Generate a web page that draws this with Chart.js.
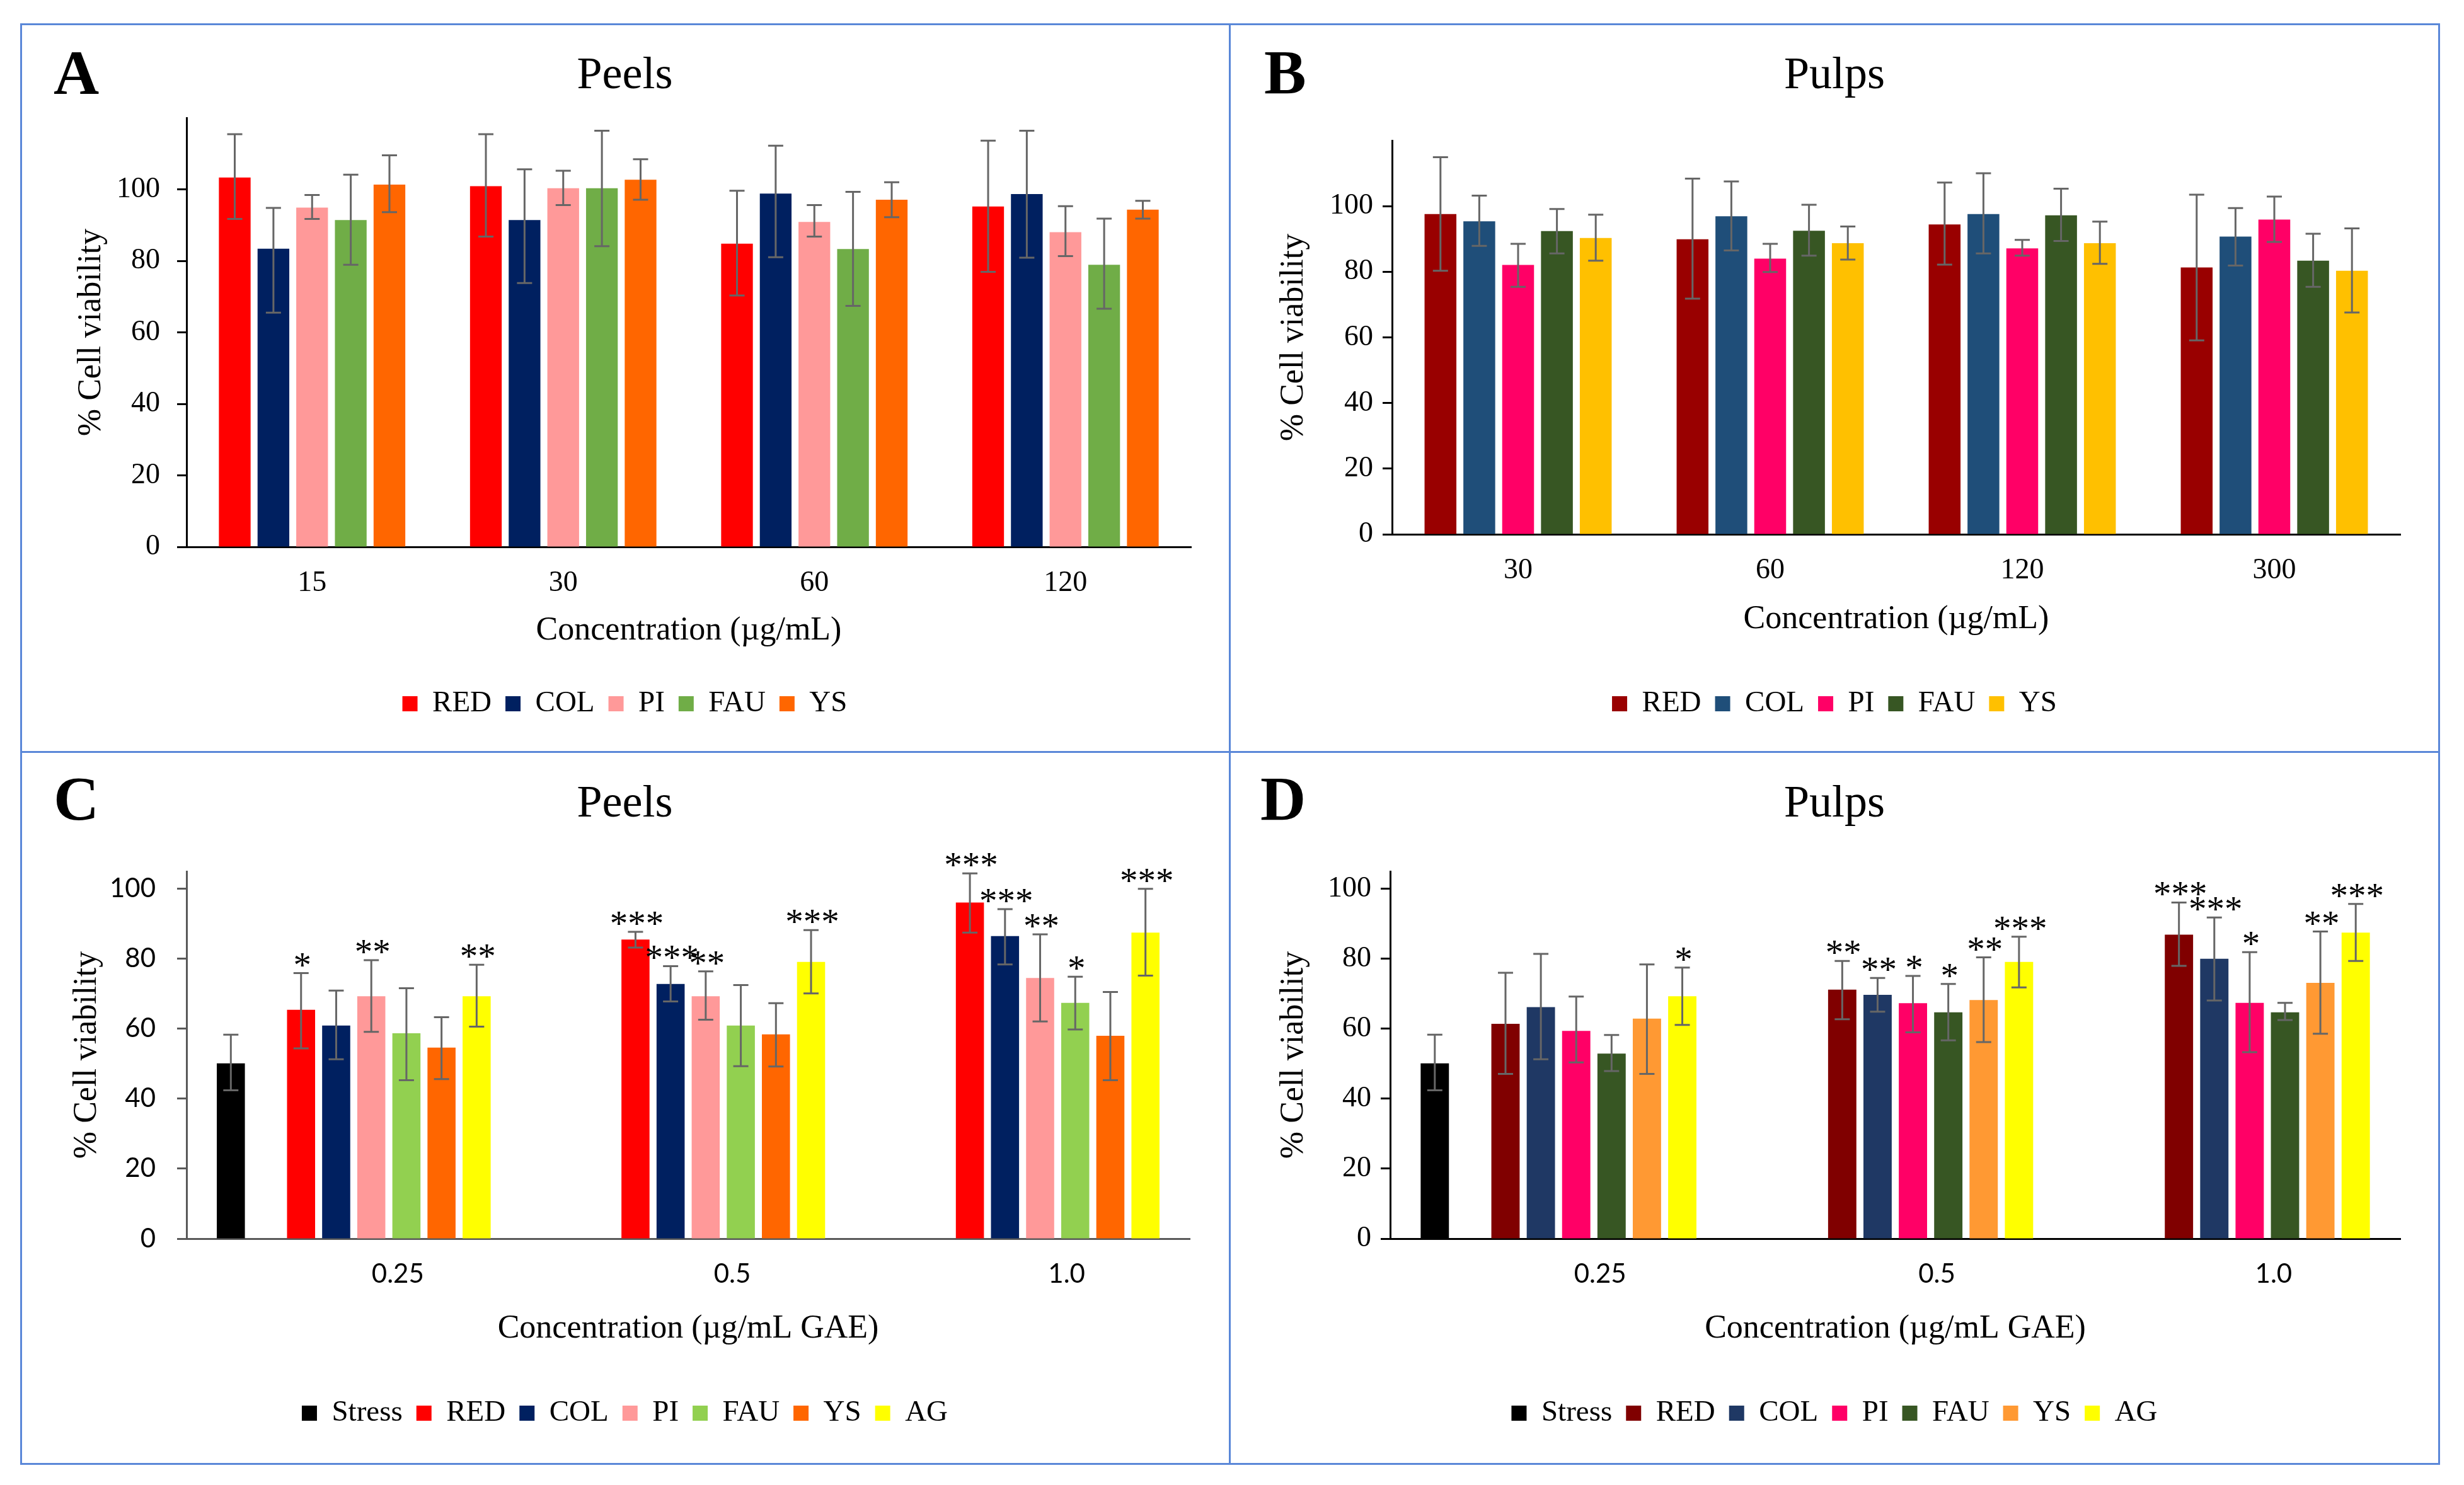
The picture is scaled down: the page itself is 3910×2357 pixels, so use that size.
<!DOCTYPE html>
<html>
<head>
<meta charset="utf-8">
<title>Cell viability – peels and pulps</title>
<script src="https://cdn.jsdelivr.net/npm/chart.js@4.4.1/dist/chart.umd.min.js"></script>
<style>
  html, body { margin: 0; padding: 0; background: #fff; }
  body { width: 3910px; height: 2357px; position: relative; overflow: hidden; }
  .frame { position: absolute; border: 3px solid #5a87d8; box-sizing: border-box; }
  .letter { position: absolute; font-family: 'Liberation Serif', 'Times New Roman', serif; font-weight: bold;
            font-size: 100px; line-height: 1; color: #000; }
  canvas { position: absolute; }
</style>
</head>
<body>
<div class="frame" style="left:32px;top:37px;width:1921px;height:1158px"></div>
<div class="frame" style="left:1950px;top:37px;width:1922px;height:1158px"></div>
<div class="frame" style="left:32px;top:1192px;width:1921px;height:1133px"></div>
<div class="frame" style="left:1950px;top:1192px;width:1922px;height:1133px"></div>

<div class="letter" style="left:85px;top:66px">A</div>
<div class="letter" style="left:2006px;top:65px">B</div>
<div class="letter" style="left:85px;top:1218px">C</div>
<div class="letter" style="left:2000px;top:1218px">D</div>

<canvas id="chartA" width="1913" height="1150" style="left:35px;top:41px"></canvas>
<canvas id="chartB" width="1916" height="1150" style="left:1953px;top:41px"></canvas>
<canvas id="chartC" width="1913" height="1122" style="left:35px;top:1196px"></canvas>
<canvas id="chartD" width="1916" height="1122" style="left:1953px;top:1196px"></canvas>

<script>
const SERIF = "'Liberation Serif', 'Times New Roman', serif";
const SANS = "Lato, Carlito, Calibri, sans-serif";

// labelled ticks on every value axis (axis itself runs a bit higher)
const Y_TICKS = [0, 20, 40, 60, 80, 100];

// ---- A: peels, plain extracts ----
const A_CATS = ['15', '30', '60', '120'];
const A_SERIES = ['RED', 'COL', 'PI', 'FAU', 'YS'];
const A_COLORS = ['#ff0000', '#002060', '#ff9999', '#70ad47', '#ff6600'];
const A_MEAN = [
  [103.3, 100.9, 84.8, 95.2],
  [83.4, 91.4, 98.8, 98.7],
  [94.9, 100.3, 90.9, 88.0],
  [91.4, 100.3, 83.3, 78.9],
  [101.3, 102.7, 97.1, 94.3]
];
const A_HIGH = [
  [115.4, 115.4, 99.6, 113.6],
  [94.8, 105.6, 112.2, 116.4],
  [98.4, 105.2, 95.6, 95.3],
  [104.1, 116.4, 99.3, 91.8],
  [109.5, 108.4, 102.0, 96.8]
];
const A_LOW = [
  [91.7, 86.8, 70.3, 76.9],
  [65.5, 73.8, 81.0, 80.9],
  [91.7, 95.6, 86.8, 81.3],
  [78.9, 84.1, 67.4, 66.6],
  [93.6, 97.1, 92.2, 91.8]
];

// ---- B: pulps, plain extracts ----
const B_CATS = ['30', '60', '120', '300'];
const B_SERIES = ['RED', 'COL', 'PI', 'FAU', 'YS'];
const B_COLORS = ['#990000', '#1f4e79', '#ff0066', '#375623', '#ffc000'];
const B_MEAN = [
  [97.6, 89.9, 94.4, 81.3],
  [95.4, 96.9, 97.6, 90.7],
  [82.1, 84.0, 87.1, 95.9],
  [92.4, 92.5, 97.2, 83.4],
  [90.3, 88.7, 88.7, 80.3]
];
const B_HIGH = [
  [114.9, 108.4, 107.2, 103.5],
  [103.2, 107.5, 110.0, 99.4],
  [88.5, 88.5, 89.7, 102.9],
  [99.1, 100.4, 105.3, 91.6],
  [97.4, 93.8, 95.3, 93.2]
];
const B_LOW = [
  [80.3, 71.8, 82.2, 59.1],
  [87.9, 86.5, 85.6, 81.9],
  [75.4, 79.9, 84.9, 89.1],
  [85.6, 84.9, 89.4, 75.4],
  [83.4, 83.7, 82.4, 67.6]
];

// ---- C: peels under stress ----
const C_CATS = ['0.25', '0.5', '1.0'];
const C_SERIES = ['Stress', 'RED', 'COL', 'PI', 'FAU', 'YS', 'AG'];
const C_COLORS = ['#000000', '#ff0000', '#002060', '#ff9999', '#92d050', '#ff6600', '#ffff00'];
const C_MEAN = [
  [50.1, null, null],
  [65.4, 85.5, 96.1],
  [60.9, 72.8, 86.5],
  [69.3, 69.3, 74.5],
  [58.7, 60.9, 67.4],
  [54.6, 58.4, 58.0],
  [69.3, 79.1, 87.5]
];
const C_HIGH = [
  [58.3, null, null],
  [75.9, 87.7, 104.4],
  [70.9, 77.9, 94.2],
  [79.6, 76.4, 87.0],
  [71.6, 72.5, 74.9],
  [63.3, 67.3, 70.5],
  [78.3, 88.2, 100.0]
];
const C_LOW = [
  [42.4, null, null],
  [54.4, 83.2, 87.5],
  [51.3, 67.8, 78.4],
  [59.1, 62.6, 62.1],
  [45.3, 49.3, 59.8],
  [45.6, 49.2, 45.3],
  [60.6, 70.1, 75.2]
];
const C_STARS = [
  ['', '', ''],
  ['*', '***', '***'],
  ['', '***', '***'],
  ['**', '**', '**'],
  ['', '', '*'],
  ['', '', ''],
  ['**', '***', '***']
];

// ---- D: pulps under stress ----
const D_CATS = ['0.25', '0.5', '1.0'];
const D_SERIES = ['Stress', 'RED', 'COL', 'PI', 'FAU', 'YS', 'AG'];
const D_COLORS = ['#000000', '#800000', '#1f3864', '#ff0066', '#375623', '#ff9933', '#ffff00'];
const D_MEAN = [
  [50.1, null, null],
  [61.4, 71.2, 86.9],
  [66.2, 69.7, 80.0],
  [59.4, 67.3, 67.4],
  [52.9, 64.7, 64.7],
  [62.9, 68.2, 73.1],
  [69.3, 79.1, 87.5]
];
const D_HIGH = [
  [58.3, null, null],
  [76.0, 79.4, 96.1],
  [81.4, 74.5, 91.8],
  [69.2, 75.1, 81.9],
  [58.2, 72.8, 67.4],
  [78.4, 80.4, 87.8],
  [77.5, 86.3, 95.7]
];
const D_LOW = [
  [42.4, null, null],
  [47.1, 62.7, 78.0],
  [51.3, 64.9, 68.1],
  [50.4, 59.0, 53.3],
  [47.9, 56.7, 62.5],
  [47.1, 56.2, 58.6],
  [61.1, 71.8, 79.4]
];
const D_STARS = [
  ['', '', ''],
  ['', '**', '***'],
  ['', '**', '***'],
  ['', '*', '*'],
  ['', '*', ''],
  ['', '**', '**'],
  ['*', '***', '***']
];

// error bars + significance stars, drawn from each dataset's errHigh/errLow/stars
const errorBars = {
  id: 'errorBars',
  afterDatasetsDraw(chart, args, opts) {
    const ctx = chart.ctx;
    const y = chart.scales.y;
    ctx.save();
    chart.data.datasets.forEach((ds, i) => {
      if (!ds.errHigh) return;
      chart.getDatasetMeta(i).data.forEach((bar, j) => {
        const hi = ds.errHigh[j], lo = ds.errLow[j];
        if (hi == null) return;
        const x = bar.x, yh = y.getPixelForValue(hi), yl = y.getPixelForValue(lo);
        ctx.strokeStyle = opts.color;
        ctx.lineWidth = opts.width;
        ctx.beginPath();
        ctx.moveTo(x, yh); ctx.lineTo(x, yl);
        ctx.moveTo(x - opts.cap, yh); ctx.lineTo(x + opts.cap, yh);
        ctx.moveTo(x - opts.cap, yl); ctx.lineTo(x + opts.cap, yl);
        ctx.stroke();
        const s = ds.stars ? ds.stars[j] : '';
        if (s) {
          ctx.fillStyle = '#000';
          ctx.font = opts.starFont;
          ctx.textAlign = 'center';
          ctx.textBaseline = 'alphabetic';
          ctx.fillText(s, x + 2, yh + opts.starShift);
        }
      });
    });
    ctx.restore();
  }
};

function buildChart(id, p) {
  const datasets = p.series.map((name, i) => ({
    label: name,
    data: p.mean[i],
    backgroundColor: p.colors[i],
    borderWidth: 0,
    errHigh: p.high[i],
    errLow: p.low[i],
    stars: p.stars ? p.stars[i] : null
  }));
  // empty slot between the stress bar and the extracts
  if (p.gapAfterFirst) datasets.splice(1, 0, { label: '', data: p.cats.map(() => null) });

  new Chart(document.getElementById(id), {
    type: 'bar',
    data: { labels: p.cats, datasets },
    options: {
      responsive: false,
      animation: false,
      devicePixelRatio: 1,
      layout: { padding: { left: p.side, right: p.side, top: 0, bottom: p.padBottom } },
      datasets: { bar: { barPercentage: p.barPct, categoryPercentage: p.catPct } },
      plugins: {
        title: {
          display: true, text: p.title, color: '#000',
          font: { family: SERIF, size: 72, weight: 'normal' },
          padding: { top: p.titleTop, bottom: p.titleBottom }
        },
        legend: {
          position: 'bottom',
          labels: {
            color: '#000', font: { family: SERIF, size: 47 },
            boxWidth: 24, boxHeight: 24, padding: 22,
            filter: item => item.text !== ''
          }
        },
        tooltip: { enabled: false },
        errorBars: { color: '#666666', width: 3, cap: 12, starFont: '57px ' + SERIF, starShift: 6 }
      },
      scales: {
        x: {
          grid: { display: false, drawTicks: false },
          border: { display: true, color: p.axisColor, width: 3 },
          ticks: { color: '#000', font: p.xTickFont, padding: p.xTickPad, labelOffset: p.labelOffset || 0,
                   maxRotation: 0, autoSkip: false },
          title: { display: true, text: p.xTitle, color: '#000', font: { family: SERIF, size: 52 },
                   padding: { top: 0, bottom: p.xTitleBottom } },
          afterFit: s => { s.height = p.xHeight; }
        },
        y: {
          min: 0, max: p.yMax,
          afterBuildTicks: s => { s.ticks = Y_TICKS.map(v => ({ value: v })); },
          ticks: { color: '#000', font: p.yTickFont, padding: p.yTickPad },
          grid: { drawOnChartArea: false, drawTicks: true, tickLength: 15, tickWidth: 3, tickColor: p.axisColor },
          border: { display: true, color: p.axisColor, width: 3 },
          title: { display: true, text: '% Cell viability', color: '#000', font: { family: SERIF, size: 52 },
                   padding: { top: p.yTitleTop, bottom: 0 } },
          afterFit: s => { s.width = p.yWidth; }
        }
      }
    },
    plugins: [errorBars]
  });
}

buildChart('chartA', {
  cats: A_CATS, series: A_SERIES, colors: A_COLORS, mean: A_MEAN, high: A_HIGH, low: A_LOW,
  title: 'Peels', xTitle: 'Concentration (\u00b5g/mL)', yMax: 120,
  barPct: 0.82, catPct: 0.77, side: 58, padBottom: 40.5,
  titleTop: 36.8, titleBottom: 22.8, xHeight: 203.5, xTitleBottom: 39.3, xTickPad: 30.4,
  yWidth: 203, yTitleTop: 20.8, yTickPad: 27, axisColor: '#000',
  xTickFont: { family: SERIF, size: 46 }, yTickFont: { family: SERIF, size: 46 }
});

buildChart('chartB', {
  cats: B_CATS, series: B_SERIES, colors: B_COLORS, mean: B_MEAN, high: B_HIGH, low: B_LOW,
  title: 'Pulps', xTitle: 'Concentration (\u00b5g/mL)', yMax: 120,
  barPct: 0.82, catPct: 0.77, side: 60, padBottom: 40.5,
  titleTop: 36.8, titleBottom: 58.8, xHeight: 223.5, xTitleBottom: 57.3, xTickPad: 30.4,
  yWidth: 196, yTitleTop: 8.8, yTickPad: 15, axisColor: '#000',
  xTickFont: { family: SERIF, size: 46 }, yTickFont: { family: SERIF, size: 46 }
});

buildChart('chartC', {
  cats: C_CATS, series: C_SERIES, colors: C_COLORS, mean: C_MEAN, high: C_HIGH, low: C_LOW, stars: C_STARS,
  gapAfterFirst: true, labelOffset: 70,
  title: 'Peels', xTitle: 'Concentration (\u00b5g/mL GAE)', yMax: 105,
  barPct: 0.8, catPct: 0.84, side: 60, padBottom: 41.5,
  titleTop: 37.8, titleBottom: 62.8, xHeight: 231.5, xTitleBottom: 57.3, xTickPad: 30.8,
  yWidth: 201, yTitleTop: 11.8, yTickPad: 34, axisColor: '#595959',
  xTickFont: { family: SANS, size: 42 }, yTickFont: { family: SANS, size: 42 }
});

buildChart('chartD', {
  cats: D_CATS, series: D_SERIES, colors: D_COLORS, mean: D_MEAN, high: D_HIGH, low: D_LOW, stars: D_STARS,
  gapAfterFirst: true, labelOffset: 66,
  title: 'Pulps', xTitle: 'Concentration (\u00b5g/mL GAE)', yMax: 105,
  barPct: 0.8, catPct: 0.84, side: 60, padBottom: 41.5,
  titleTop: 37.8, titleBottom: 62.8, xHeight: 231.5, xTitleBottom: 57.3, xTickPad: 30.8,
  yWidth: 193, yTitleTop: 8.8, yTickPad: 15, axisColor: '#000',
  xTickFont: { family: SANS, size: 42 }, yTickFont: { family: SERIF, size: 46 }
});
</script>
</body>
</html>
